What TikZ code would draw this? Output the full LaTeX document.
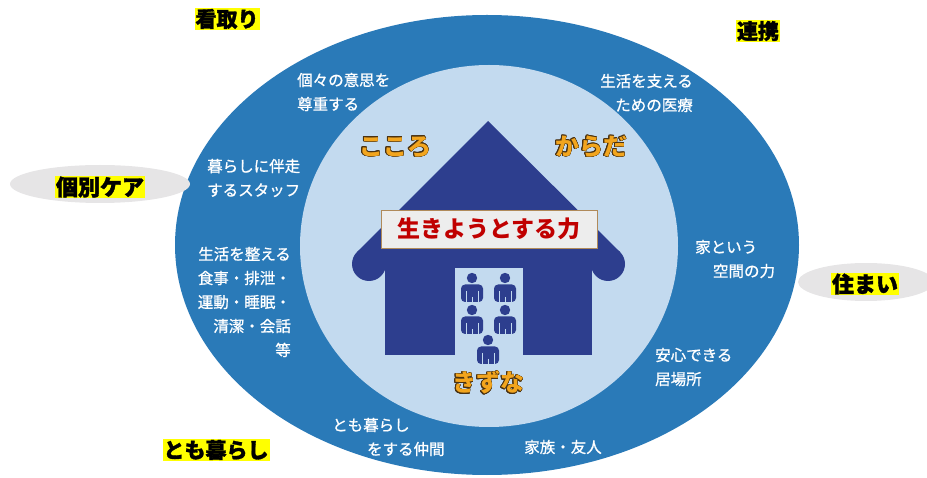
\documentclass[tikz,border=0pt]{standalone}
\usepackage{fontspec}
\setmainfont{Noto Sans CJK JP}
\newfontfamily\ringfont[FakeBold=0.9]{Noto Sans CJK JP}
\newfontfamily\heavyfont[BoldFeatures={FakeBold=1.6}]{Noto Sans CJK JP}
\usepackage[copies]{contour}
\contourlength{0.5pt}
\definecolor{ringblue}{HTML}{2A7AB8}
\definecolor{corelight}{HTML}{C3DAEF}
\definecolor{housenavy}{HTML}{2D3E8E}
\definecolor{warmorange}{HTML}{F2A51E}
\definecolor{warmedge}{HTML}{4A3212}
\definecolor{tagyellow}{HTML}{FFFF00}
\definecolor{pillgray}{HTML}{E6E5E6}
\definecolor{lifered}{HTML}{C00000}
\definecolor{boxedge}{HTML}{B08A5A}
\tikzset{
  x=1pt, y=-1pt,
  ringtext/.style={text=white, inner sep=0pt, font=\ringfont\fontsize{15.5}{24}\selectfont},
  tag/.style={fill=tagyellow, text=black, inner sep=1pt, font=\heavyfont\bfseries\fontsize{21}{21}\selectfont},
  bigtag/.style={tag, font=\heavyfont\bfseries\fontsize{22}{22}\selectfont},
  pill/.style={fill=pillgray},
  heart/.style={inner sep=0pt, font=\bfseries\fontsize{24}{24}\selectfont},
  person/.pic={
    \fill[housenavy] (0,0) circle (5.2);
    \fill[housenavy, rounded corners=4pt] (-11,24) -- (-11,6.5) -- (11,6.5) -- (11,24) -- cycle;
    \draw[corelight, line width=0.6pt] (-6,13) -- (-6,24) (6,13) -- (6,24) (0,19) -- (0,24);
  }
}
\newcommand{\warmword}[1]{\contour{warmedge}{\textcolor{warmorange}{#1}}}
\begin{document}
\begin{tikzpicture}
\useasboundingbox (0,0) rectangle (927,478);
% rings
\fill[ringblue] (487,245) ellipse [x radius=312, y radius=230];
\fill[corelight] (489,246) ellipse [x radius=189, y radius=181];
% house
\fill[housenavy] (488,121) -- (357,252) -- (369,264) -- (608,264) -- (620,252) -- cycle;
\fill[housenavy] (369,264) circle (17) (608,264) circle (17);
\fill[housenavy] (385,250) rectangle (592,355);
\fill[corelight] (455,268) rectangle (523,356);
% people in the doorway
\pic at (472,278) {person};
\pic at (505,278) {person};
\pic at (472,310) {person};
\pic at (505,310) {person};
\pic at (488,340) {person};
% central words
\node[draw=boxedge, fill=black!7, line width=0.8pt, minimum width=216, minimum height=38, inner sep=0pt,
      text=lifered, font=\bfseries\fontsize{23}{23}\selectfont] (life) at (489,229) {生きようとする力};
\node[heart] (kokoro) at (395,147) {\warmword{こころ}};
\node[heart] (karada) at (591,147) {\warmword{からだ}};
\node[heart] (kizuna) at (488,383) {\warmword{きずな}};
% ring texts
\node[ringtext, align=left, anchor=west] (ishi) at (297,92) {個々の意思を\\尊重する};
\node[ringtext, align=right, anchor=east] (iryo) at (693,93) {生活を支える\\ための医療};
\node[ringtext, align=left, anchor=west] (staff) at (207,178) {暮らしに伴走\\するスタッフ};
\node[ringtext, align=right, anchor=east] (seikatsu) at (291,302) {生活を整える\\食事・排泄・\\運動・睡眠・\\清潔・会話\\等};
\node[ringtext, align=left, anchor=west] (kukan) at (695,259) {家という\\\hspace{1.15em}空間の力};
\node[ringtext, align=left, anchor=west] (ibasho) at (655,367) {安心できる\\居場所};
\node[ringtext, align=left, anchor=west] (nakama) at (332,437) {とも暮らし\\\hspace{2.25em}をする仲間};
\node[ringtext] (kazoku) at (563,447) {家族・友人};
% outer tags
\fill[pill] (100,184) ellipse [x radius=90, y radius=19];
\fill[pill] (866,282) ellipse [x radius=68, y radius=19];
\node[tag] (mitori) at (227,19) {看取り};
\node[tag] (renkei) at (758,31) {連携};
\node[bigtag] (kobetsu) at (100,187) {個別ケア};
\node[bigtag] (sumai) at (865,284) {住まい};
\node[tag] (tomogurashi) at (216,450) {とも暮らし};
\end{tikzpicture}
\end{document}
